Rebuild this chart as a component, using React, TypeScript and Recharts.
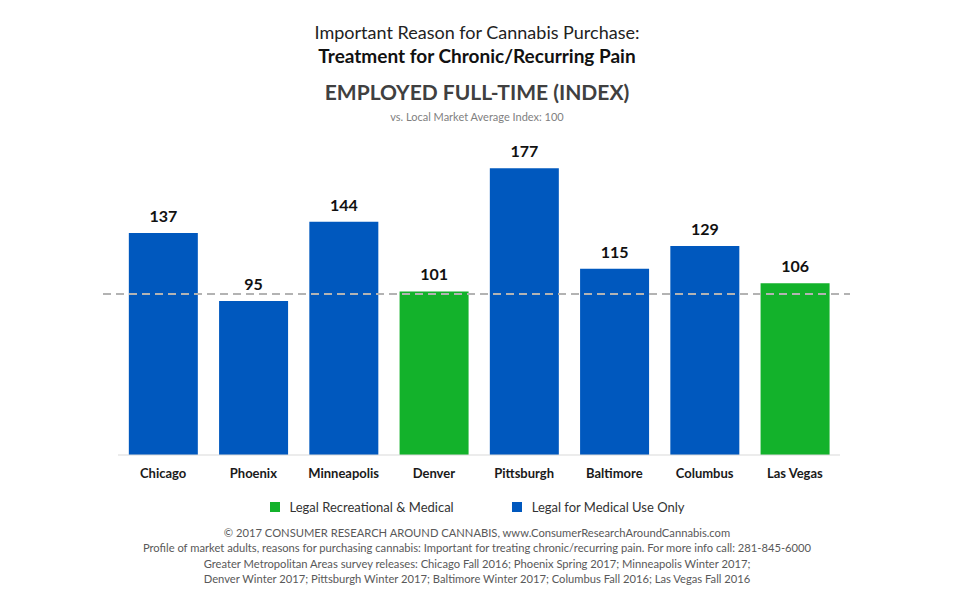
import React from "react";
import { BarChart, Bar, XAxis, YAxis, Cell, LabelList, ReferenceLine } from "recharts";

const cities = ["Chicago", "Phoenix", "Minneapolis", "Denver", "Pittsburgh", "Baltimore", "Columbus", "Las Vegas"];
const indexValues = [137, 95, 144, 101, 177, 115, 129, 106];
const legalStatus = ["medical", "medical", "medical", "recreational", "medical", "medical", "medical", "recreational"];
const averageIndex = 100;

const GREEN = "#13b22b";
const BLUE = "#0058be";
const FONT = "Lato, 'Open Sans', sans-serif";

const data = cities.map((c, i) => ({ city: c, value: indexValues[i], status: legalStatus[i] }));

const footnotes = [
  "© 2017 CONSUMER RESEARCH AROUND CANNABIS, www.ConsumerResearchAroundCannabis.com",
  "Profile of market adults, reasons for purchasing cannabis: Important for treating chronic/recurring pain. For more info call: 281-845-6000",
  "Greater Metropolitan Areas survey releases: Chicago Fall 2016; Phoenix Spring 2017; Minneapolis Winter 2017;",
  "Denver Winter 2017; Pittsburgh Winter 2017; Baltimore Winter 2017; Columbus Fall 2016; Las Vegas Fall 2016",
];

const MARGIN = { top: 131, right: 114, bottom: 126, left: 118 };

const CityTick = (props: any) => {
  const { x, y, payload } = props;
  return (
    <text x={x} y={y + 15} textAnchor="middle" fontFamily={FONT} fontSize={13} fontWeight={700} fill="#1a1a1a">
      {payload.value}
    </text>
  );
};

const DashedAvg = (props: any) => {
  const { x1, x2, y1 } = props;
  return <line x1={x1 - 15} x2={x2 + 10} y1={y1 + 1} y2={y1 + 1} stroke="#b3b3b3" strokeWidth={2} strokeDasharray="8 5" />;
};

export default function App() {
  return (
    <div style={{ position: "absolute", left: 0, top: 0, width: 954, height: 611, background: "#fff", fontFamily: FONT }}>
      <div style={{ position: "absolute", top: 20, width: 954, textAlign: "center", fontSize: 18, color: "#222", lineHeight: "24px" }}>
        Important Reason for Cannabis Purchase:
      </div>
      <div style={{ position: "absolute", top: 44, width: 954, textAlign: "center", fontSize: 19, fontWeight: 700, color: "#111", lineHeight: "24px" }}>
        Treatment for Chronic/Recurring Pain
      </div>
      <div style={{ position: "absolute", top: 79, width: 954, textAlign: "center", fontSize: 21, fontWeight: 700, color: "#404040", lineHeight: "26px" }}>
        EMPLOYED FULL-TIME (INDEX)
      </div>
      <div style={{ position: "absolute", top: 110, width: 954, textAlign: "center", fontSize: 11, color: "#7f7f7f", lineHeight: "14px" }}>
        vs. Local Market Average Index: 100
      </div>
      <div style={{ position: "absolute", left: 0, top: 0 }}>
        <BarChart width={954} height={611} data={data} margin={MARGIN} barCategoryGap="12%">
          <YAxis hide domain={[0, 200]} />
          <XAxis dataKey="city" axisLine={{ stroke: "#d9d9d9" }} tickLine={false} tick={<CityTick />} height={30} interval={0} />
          <Bar dataKey="value" isAnimationActive={false}>
            {data.map((d, i) => (
              <Cell key={i} fill={d.status === "recreational" ? GREEN : BLUE} />
            ))}
            <LabelList dataKey="value" position="top" offset={11} fontFamily={FONT} fontSize={16} fontWeight={700} fill="#111" />
          </Bar>
          <ReferenceLine y={averageIndex} shape={<DashedAvg />} ifOverflow="visible" />
        </BarChart>
      </div>
      <div style={{ position: "absolute", top: 499, left: 0, width: 954, display: "flex", justifyContent: "center", gap: 58, fontSize: 13, color: "#333", lineHeight: "16px" }}>
        <div style={{ display: "flex", alignItems: "center" }}>
          <span style={{ width: 10, height: 10, background: GREEN, display: "inline-block", marginRight: 10 }} />
          Legal Recreational &amp; Medical
        </div>
        <div style={{ display: "flex", alignItems: "center" }}>
          <span style={{ width: 10, height: 10, background: BLUE, display: "inline-block", marginRight: 10 }} />
          Legal for Medical Use Only
        </div>
      </div>
      <div style={{ position: "absolute", top: 525, width: 954, textAlign: "center", fontSize: 11.2, color: "#595959", lineHeight: "15.3px" }}>
        {footnotes.map((f, i) => (
          <div key={i}>{f}</div>
        ))}
      </div>
    </div>
  );
}
